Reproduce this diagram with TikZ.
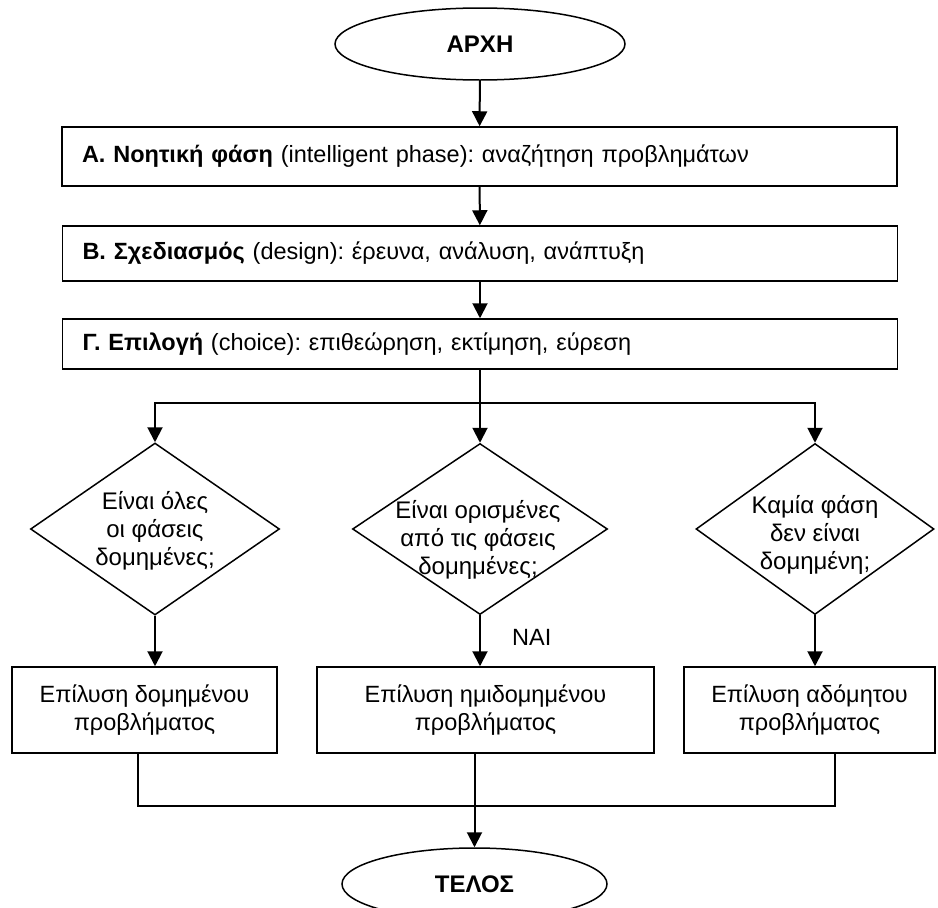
\documentclass[tikz,border=0pt]{standalone}
\usepackage{fontspec}
\setmainfont{Liberation Sans}
\usetikzlibrary{shapes.geometric,arrows.meta}
\frenchspacing
\begin{document}
\begin{tikzpicture}[x=1pt,y=-1pt,
  every node/.style={font=\fontsize{23.5pt}{28.5pt}\selectfont},
  terminal/.style={draw, line width=1.5pt, ellipse, minimum width=290pt,
    minimum height=72pt, inner sep=0pt,
    font=\fontsize{24pt}{28pt}\selectfont\bfseries},
  phase/.style={draw, line width=1.5pt, rectangle, text width=795pt,
    inner xsep=20pt, inner ysep=0pt, align=left},
  decision/.style={draw, line width=1.5pt, diamond, inner sep=0pt},
  question/.style={align=center, inner sep=0pt,
    font=\fontsize{24pt}{28pt}\selectfont},
  solve/.style={draw, line width=1.5pt, rectangle, align=center,
    minimum height=86pt, inner sep=0pt},
  flow/.style={line width=2pt, -{Triangle[width=15pt,length=15pt]}},
  mergeline/.style={line width=1.5pt}
]
\useasboundingbox (0,0) rectangle (938,908);
\clip (0,0) rectangle (938,908);

% start and phases
\node[terminal] (start) at (480,44) {ΑΡΧΗ};
\node[phase, minimum height=59pt] (A) at (479.5,156.5)
  {\textbf{Α. Νοητική φάση} (intelligent phase): αναζήτηση προβλημάτων};
\node[phase, minimum height=55pt] (B) at (480,253.5)
  {\textbf{Β. Σχεδιασμός} (design): έρευνα, ανάλυση, ανάπτυξη};
\node[phase, minimum height=50pt] (C) at (480,344)
  {\textbf{Γ. Επιλογή} (choice): επιθεώρηση, εκτίμηση, εύρεση};

% decisions
\node[decision, minimum width=249pt, minimum height=172pt] (d1) at (155,529) {};
\node[decision, minimum width=255pt, minimum height=171pt] (d2) at (480,529) {};
\node[decision, minimum width=238pt, minimum height=171pt] (d3) at (815,529) {};
\node[question] (q1) at (155,531) {Είναι όλες\\ οι φάσεις\\ δομημένες;};
\node[question] (q2) at (478,540) {Είναι ορισμένες\\ από τις φάσεις\\ δομημένες;};
\node[question] (q3) at (815,535) {Καμία φάση\\ δεν είναι\\ δομημένη;};

% solutions
\node[solve, minimum width=265pt] (b1) at (144.5,710) {Επίλυση δομημένου\\ προβλήματος};
\node[solve, minimum width=337pt] (b2) at (485.5,710) {Επίλυση ημιδομημένου\\ προβλήματος};
\node[solve, minimum width=251pt] (b3) at (809.5,710) {Επίλυση αδόμητου\\ προβλήματος};

\node[terminal, minimum width=265pt] (stop) at (474.5,884) {ΤΕΛΟΣ};

\node[anchor=west, inner sep=0pt] (yes) at (512,637) {ΝΑΙ};

% connectors
\draw[flow] (start) -- (A);
\draw[flow] (A) -- (B);
\draw[flow] (B) -- (C);
\coordinate (split) at (480,403);
\draw[flow] (C.south) -- (d2.north);
\draw[flow] (split) -| (d1.north);
\draw[flow] (split) -| (d3.north);
\draw[flow] (d1.south) -- (d1.south |- b1.north);
\draw[flow] (d2.south) -- (d2.south |- b2.north);
\draw[flow] (d3.south) -- (d3.south |- b3.north);

\coordinate (m1) at (138,806);
\coordinate (m3) at (835,806);
\draw[mergeline] (b1.south -| m1) -- (m1) -- (m3) -- (b3.south -| m3);
\draw[flow] (b2.south -| stop.north) -- (stop.north);
\end{tikzpicture}
\end{document}
